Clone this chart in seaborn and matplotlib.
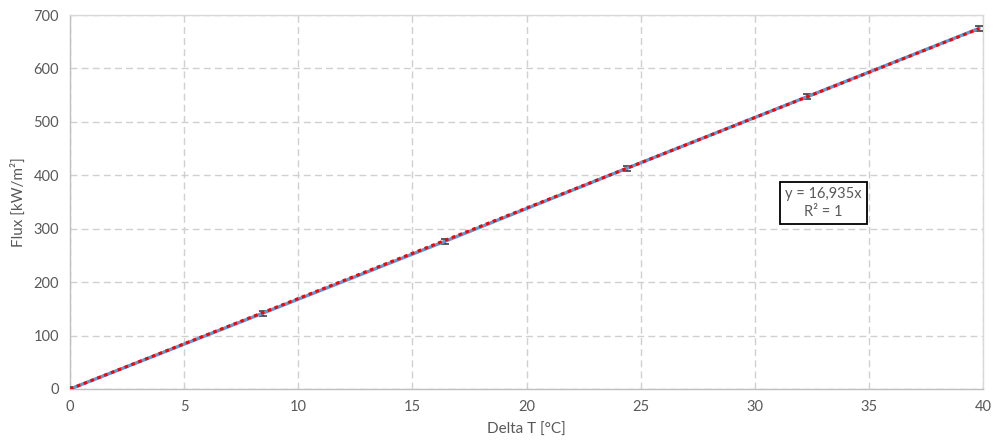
import matplotlib
matplotlib.use("Agg")
import matplotlib.pyplot as plt
import seaborn as sns
import numpy as np
import pandas as pd

delta_t = [0.0, 8.45, 16.43, 24.39, 32.29, 39.83]
flux = [0.0, 142.0, 276.5, 413.0, 547.0, 675.0]
flux_err = [3.5, 4.5, 4.5, 4.5, 4.5, 4.5]
slope = 16.935
x_ticks = [0, 5, 10, 15, 20, 25, 30, 35, 40]
y_ticks = [0, 100, 200, 300, 400, 500, 600, 700]

sns.set_theme(style="white")
plt.rcParams['font.family'] = ['Lato', 'DejaVu Sans']

df = pd.DataFrame({"Delta T": delta_t, "Flux": flux})
fit = pd.DataFrame({"x": [0.0, max(delta_t)]})
fit["y"] = slope * fit["x"]

fig = plt.figure(figsize=(9.95, 4.48), dpi=100)
ax = fig.add_axes([0.0704, 0.1317, 0.9176, 0.8348])

txt = "#595959"
ax.errorbar(delta_t, flux, yerr=flux_err, fmt="none", ecolor="#404040",
            elinewidth=1.2, capsize=3, capthick=1.2, zorder=3)
sns.lineplot(data=df, x="Delta T", y="Flux", ax=ax, color="#5b9bd5",
             linewidth=2.4, zorder=4)
sns.lineplot(data=fit, x="x", y="y", ax=ax, color="#ff0000",
             linewidth=2.2, linestyle=(0, (1.2, 1.2)), zorder=5)

ax.set_xlim(0, 40)
ax.set_ylim(0, 700)
ax.set_xticks(x_ticks)
ax.set_yticks(y_ticks)
ax.grid(True, color="#d0d0d0", linestyle=(0, (5, 3)), linewidth=1)
ax.set_axisbelow(True)
for s in ["top", "right"]:
    ax.spines[s].set_color("#d9d9d9")
    ax.spines[s].set_linewidth(1)
for s in ["left", "bottom"]:
    ax.spines[s].set_color("#bfbfbf")
    ax.spines[s].set_linewidth(1)
ax.tick_params(axis="both", colors=txt, labelsize=10.5, length=0, pad=8)
ax.set_xlabel("Delta T [°C]", color=txt, fontsize=11, labelpad=6)
ax.set_ylabel("Flux [kW/m²]", color=txt, fontsize=11, labelpad=5)

ax.text(33.0, 348, "y = 16,935x\nR² = 1", ha="center", va="center",
        color=txt, fontsize=10.5, linespacing=1.3,
        bbox=dict(boxstyle="square,pad=0.35", fc="white", ec="black", lw=1.3),
        zorder=6)

fig.savefig("out.png", dpi=100)
